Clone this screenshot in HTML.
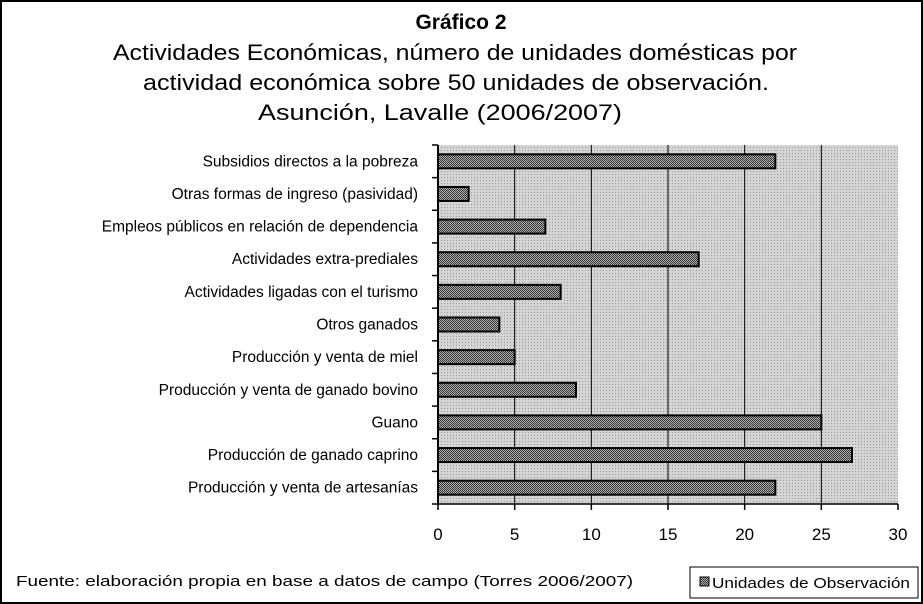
<!DOCTYPE html>
<html><head><meta charset="utf-8"><style>
body{margin:0;background:#fff}
svg{display:block;font-family:"Liberation Sans",Arial,sans-serif}
</style></head><body>
<svg id="chart" width="923" height="604" viewBox="0 0 923 604">
<defs>
<pattern id="dots" width="3" height="3" patternUnits="userSpaceOnUse"><rect width="3" height="3" fill="#d4d4d4"/><rect width="1" height="1" fill="#9a9a9a"/></pattern>
<pattern id="hatch" width="2" height="2" patternUnits="userSpaceOnUse"><rect width="2" height="2" fill="#b0b0b0"/><rect width="1" height="1" fill="#333"/><rect x="1" y="1" width="1" height="1" fill="#333"/></pattern>
</defs>
<rect x="1" y="1" width="921" height="602" fill="#fff" stroke="#000" stroke-width="2"/>
<text x="461" y="29" text-anchor="middle" font-size="21" font-weight="bold">Gráfico 2</text>
<text x="455" y="60" text-anchor="middle" font-size="22" textLength="684" lengthAdjust="spacingAndGlyphs">Actividades Económicas, número de unidades domésticas por</text>
<text x="456" y="90" text-anchor="middle" font-size="22" textLength="626" lengthAdjust="spacingAndGlyphs">actividad económica sobre 50 unidades de observación.</text>
<text x="440" y="120" text-anchor="middle" font-size="22" textLength="364" lengthAdjust="spacingAndGlyphs">Asunción, Lavalle (2006/2007)</text>
<rect x="438" y="145" width="460" height="359" fill="url(#dots)"/>
<g id="grid"></g>
<g id="bars"></g>
<g id="axes"></g>
<text x="16" y="586" font-size="15" textLength="617" lengthAdjust="spacingAndGlyphs">Fuente: elaboración propia en base a datos de campo (Torres 2006/2007)</text>
<g>
<rect x="690" y="567" width="228" height="31" fill="#fff" stroke="#000" stroke-width="1"/>
<rect x="700" y="577" width="9" height="9" fill="url(#hatch)" stroke="#000"/>
<text x="712" y="588" font-size="15" textLength="198" lengthAdjust="spacingAndGlyphs">Unidades de Observación</text>
</g>
</svg>
<script>
const categories=["Subsidios directos a la pobreza","Otras formas de ingreso (pasividad)","Empleos públicos en relación de dependencia","Actividades extra-prediales","Actividades ligadas con el turismo","Otros ganados","Producción y venta de miel","Producción y venta de ganado bovino","Guano","Producción de ganado caprino","Producción y venta de artesanías"];
const values=[22,2,7,17,8,4,5,9,25,27,22];
const ticks=[0,5,10,15,20,25,30];
const NS="http://www.w3.org/2000/svg";
const x0=438,x1=898,y0=145,y1=504,xmax=30;
const band=(y1-y0)/categories.length;
const xs=v=>x0+(v/xmax)*(x1-x0);
const yc=i=>y0+band*(i+0.5);
function mk(t,a,p){const e=document.createElementNS(NS,t);for(const k in a)e.setAttribute(k,a[k]);p.appendChild(e);return e;}
const grid=document.getElementById('grid'),bars=document.getElementById('bars'),axes=document.getElementById('axes');
ticks.forEach(t=>{
  if(t>0&&t<xmax){const l=mk('line',{x1:xs(t),x2:xs(t),y1:y0,y2:y1,stroke:'#000','stroke-width':1},grid);
  
  }
  const tk=mk('line',{x1:xs(t),x2:xs(t),y1:y1,y2:y1+6,stroke:'#000','stroke-width':1.5},axes);
  
  
  const lb=mk('text',{x:xs(t),y:540,'text-anchor':'middle','font-size':17},axes);
  lb.textContent=t;
  
  
});
values.forEach((v,i)=>{
  const r=mk('rect',{x:x0,y:yc(i)-7,width:xs(v)-x0,height:14,fill:'url(#hatch)',stroke:'#000','stroke-width':2},bars);
  
  
  const lb=mk('text',{x:418,y:yc(i)+5,'text-anchor':'end','font-size':15.5},axes);
  lb.textContent=categories[i];
  
  
});
for(let i=0;i<=categories.length;i++){
  const t=mk('line',{x1:432,x2:x0,y1:y0+band*i,y2:y0+band*i,stroke:'#000','stroke-width':1.5},axes);
  
  
}
const ya=mk('line',{x1:x0,x2:x0,y1:y0,y2:y1,stroke:'#000','stroke-width':2},axes);


const xa=mk('line',{x1:x0,x2:x1,y1:y1,y2:y1,stroke:'#000','stroke-width':1.5},axes);


</script>
</body></html>
